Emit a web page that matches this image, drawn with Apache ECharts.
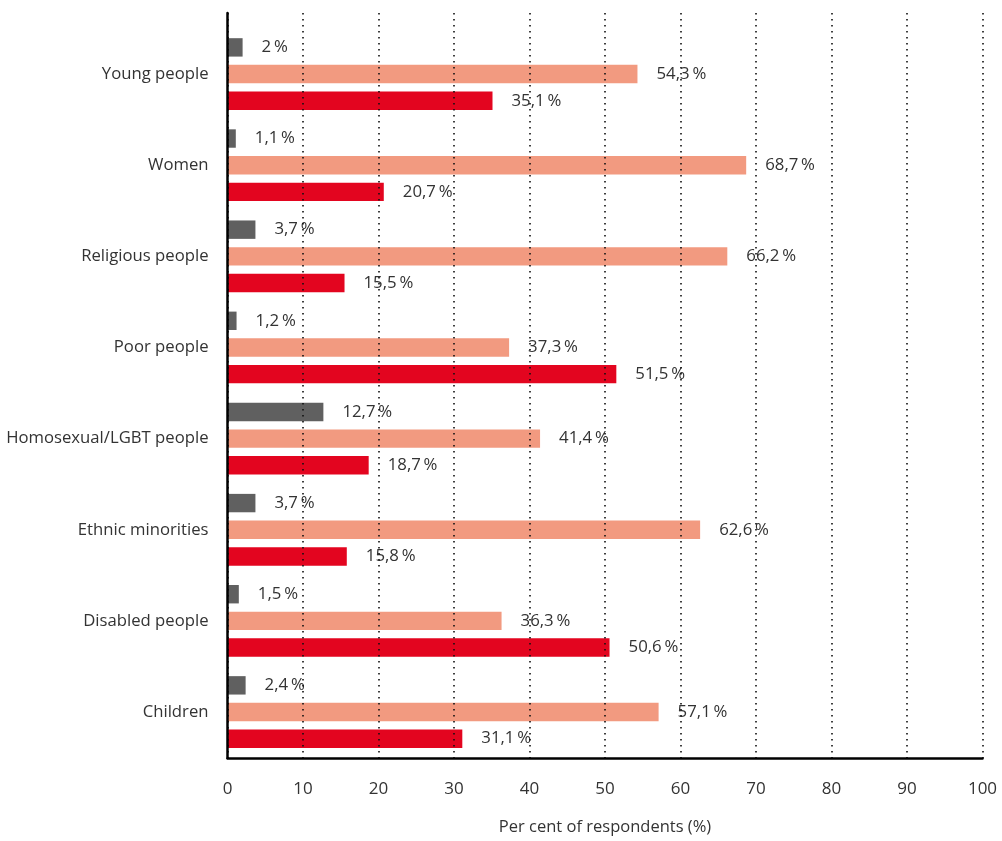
<!DOCTYPE html>
<html>
<head>
<meta charset="utf-8">
<script src="https://cdn.jsdelivr.net/npm/echarts@6/dist/echarts.min.js"></script>
<style>
  html, body { margin: 0; padding: 0; background: #fff; }
  #chart { width: 1002px; height: 841px; }
</style>
</head>
<body>
<div id="chart"></div>
<script>
// Groups, listed top to bottom
const categories = [
  'Young people', 'Women', 'Religious people', 'Poor people',
  'Homosexual/LGBT people', 'Ethnic minorities', 'Disabled people', 'Children'
];
// Three answers per group (per cent of respondents)
const greyValues   = [2, 1.1, 3.7, 1.2, 12.7, 3.7, 1.5, 2.4];
const salmonValues = [54.3, 68.7, 66.2, 37.3, 41.4, 62.6, 36.3, 57.1];
const redValues    = [35.1, 20.7, 15.5, 51.5, 18.7, 15.8, 50.6, 31.1];
const xTicks = { min: 0, max: 100, interval: 10 };

const FONT = '"Open Sans", "Noto Sans", sans-serif';
const WEIGHT = 400;
const TEXT = '#333';

function fmt(v) {
  return String(v).replace('.', ',') + '\u2009%';
}

function barSeries(values, color) {
  return {
    type: 'bar',
    xAxisIndex: 1,
    yAxisIndex: 1,
    data: values,
    barWidth: 18.4,
    barGap: '45%',
    itemStyle: { color: color },
    label: {
      show: true,
      position: 'right',
      distance: 19,
      color: TEXT,
      fontFamily: FONT,
      fontWeight: WEIGHT,
      fontSize: 16.8,
      formatter: p => fmt(p.value)
    },
    emphasis: { disabled: true }
  };
}

const chart = echarts.init(document.getElementById('chart'), null, { renderer: 'canvas' });
chart.setOption({
  animation: false,
  grid: [
    { left: 227.5, right: 19.5, top: 13, bottom: 71 },
    { left: 227.5, right: 19.5, top: 28.5, bottom: 83.4 }
  ],
  xAxis: [
    {
      gridIndex: 0,
      type: 'value',
      min: xTicks.min, max: xTicks.max, interval: xTicks.interval,
      z: 5,
      axisLine: { show: true, onZero: false, lineStyle: { color: '#000', width: 2.5 } },
      axisTick: { show: false },
      splitLine: { show: true, lineStyle: { color: '#111', width: 1.6, type: [1.6, 4.4] } },
      axisLabel: { margin: 23, color: TEXT, fontFamily: FONT, fontWeight: WEIGHT, fontSize: 17 },
      name: 'Per cent of respondents (%)',
      nameLocation: 'middle',
      nameGap: 61,
      nameTextStyle: { color: TEXT, fontFamily: FONT, fontWeight: WEIGHT, fontSize: 16.5 }
    },
    {
      gridIndex: 1,
      type: 'value',
      min: xTicks.min, max: xTicks.max, interval: xTicks.interval,
      show: false
    }
  ],
  yAxis: [
    {
      gridIndex: 0,
      type: 'category',
      data: [''],
      z: 5,
      axisLine: { show: true, lineStyle: { color: '#000', width: 2.5 } },
      axisTick: { show: false },
      axisLabel: { show: false },
      splitLine: { show: false }
    },
    {
      gridIndex: 1,
      type: 'category',
      data: categories,
      inverse: true,
      axisLine: { show: false },
      axisTick: { show: false },
      splitLine: { show: false },
      axisLabel: { margin: 19, color: TEXT, fontFamily: FONT, fontWeight: WEIGHT, fontSize: 16.7 }
    }
  ],
  series: [
    barSeries(greyValues, '#606060'),
    barSeries(salmonValues, '#f29a80'),
    barSeries(redValues, '#e3051f')
  ]
});
</script>
</body>
</html>
